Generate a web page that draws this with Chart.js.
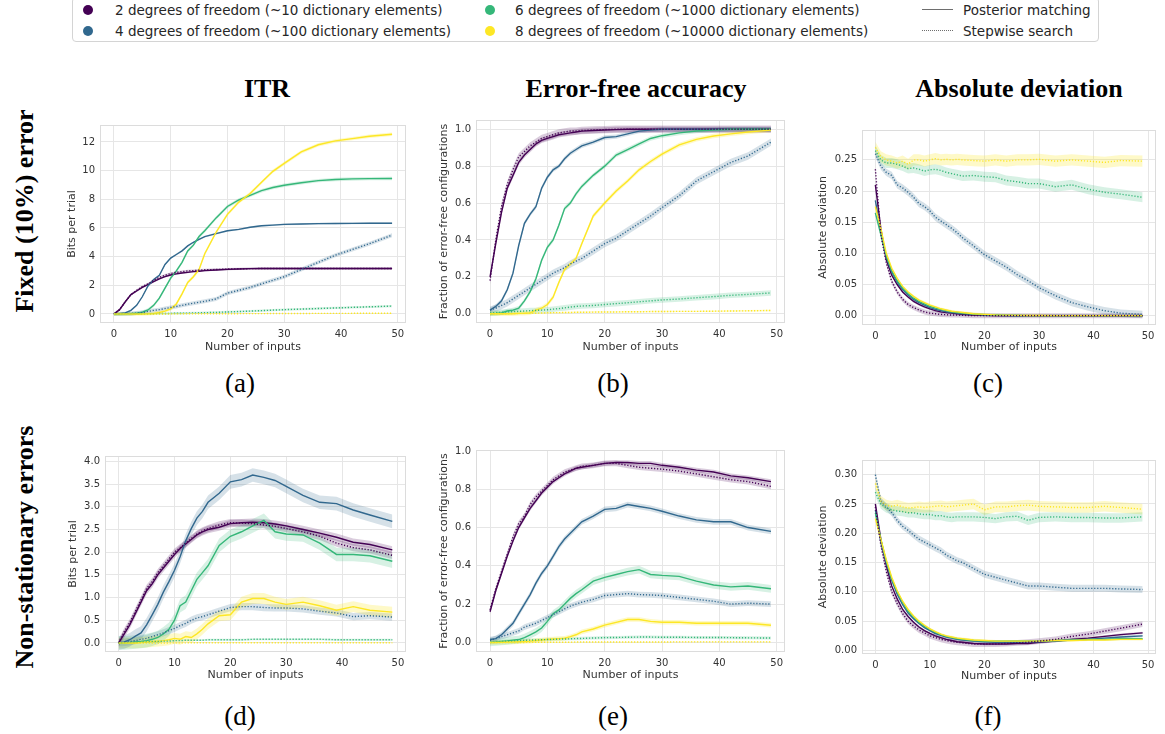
<!DOCTYPE html>
<html lang="en">
<head>
<meta charset="UTF-8">
<title>Posterior matching vs stepwise search</title>
<style>
    body { margin: 0; width: 1165px; height: 734px; overflow: hidden; background: #fff; position: relative; font-family: "DejaVu Sans", sans-serif; color: #262626; }
    .abs { position: absolute; }
    canvas { position: absolute; }
    #legend { left: 72px; top: -3px; width: 1027px; height: 45px; border: 1px solid #d4d4d4; border-radius: 4px; box-sizing: border-box; }
    .ltxt { font-size: 13.5px; line-height: 16px; white-space: nowrap; }
    .dot { width: 10px; height: 10px; border-radius: 50%; }
    .coltitle { font-family: "Liberation Serif", "Times New Roman", serif; font-weight: bold; font-size: 26px; width: 400px; text-align: center; line-height: 30px; color: #000; }
    .plabel { font-family: "Liberation Serif", "Times New Roman", serif; font-size: 27px; width: 100px; text-align: center; line-height: 30px; color: #000; }
    .rowlabel { font-family: "Liberation Serif", "Times New Roman", serif; font-weight: bold; font-size: 26px; width: 400px; height: 30px; line-height: 30px; text-align: center; transform: rotate(-90deg); color: #000; }
</style>
</head>
<body>

<div id="legend" class="abs"></div>
<div class="abs dot" style="left:83px;top:5px;background:#440154"></div>
<div class="abs ltxt" style="left:115px;top:2px">2 degrees of freedom (~10 dictionary elements)</div>
<div class="abs dot" style="left:83px;top:26px;background:#31688e"></div>
<div class="abs ltxt" style="left:115px;top:23px">4 degrees of freedom (~100 dictionary elements)</div>
<div class="abs dot" style="left:485px;top:5px;background:#35b779"></div>
<div class="abs ltxt" style="left:515px;top:2px">6 degrees of freedom (~1000 dictionary elements)</div>
<div class="abs dot" style="left:485px;top:26px;background:#fde725"></div>
<div class="abs ltxt" style="left:515px;top:23px">8 degrees of freedom (~10000 dictionary elements)</div>
<div class="abs" style="left:922px;top:9px;width:31px;border-top:1.5px solid #6e6e6e"></div>
<div class="abs ltxt" style="left:963px;top:2px">Posterior matching</div>
<div class="abs" style="left:922px;top:30px;width:31px;border-top:1.5px dotted #6e6e6e"></div>
<div class="abs ltxt" style="left:963px;top:23px">Stepwise search</div>

<div class="abs coltitle" style="left:67px;top:74px">ITR</div>
<div class="abs coltitle" style="left:436px;top:74px">Error-free accuracy</div>
<div class="abs coltitle" style="left:819px;top:74px">Absolute deviation</div>

<div class="abs rowlabel" style="left:-175px;top:196px">Fixed (10%) error</div>
<div class="abs rowlabel" style="left:-175px;top:532px">Non-stationary errors</div>

<div class="abs plabel" style="left:190px;top:368px">(a)</div>
<div class="abs plabel" style="left:563px;top:368px">(b)</div>
<div class="abs plabel" style="left:938px;top:368px">(c)</div>
<div class="abs plabel" style="left:190px;top:701px">(d)</div>
<div class="abs plabel" style="left:563px;top:701px">(e)</div>
<div class="abs plabel" style="left:938px;top:701px">(f)</div>

<canvas id="ca"></canvas>
<canvas id="cb"></canvas>
<canvas id="cc"></canvas>
<canvas id="cd"></canvas>
<canvas id="ce"></canvas>
<canvas id="cf"></canvas>

<script src="https://cdn.jsdelivr.net/npm/chart.js"></script>
<script>
    // number of inputs at which values were read
    const inputs = [0,1,2,3,4,5,6,7,8,9,10,11,12,13,14,15,16,18,20,22,24,26,28,30,33,36,39,42,45,49];

    // (a) ITR, fixed error -- PM = posterior matching, SS = stepwise search, 2/4/6/8 degrees of freedom
    const aPM2 = [0,0.3,0.85,1.35,1.6,1.85,2.05,2.25,2.45,2.6,2.72,2.8,2.86,2.9,2.95,2.98,3.02,3.07,3.11,3.14,3.16,3.17,3.17,3.17,3.17,3.17,3.17,3.17,3.17,3.17];
    const aPM4 = [0,0.02,0.08,0.25,0.6,1.2,1.95,2.4,2.7,3.45,3.9,4.15,4.4,4.75,5.0,5.2,5.4,5.6,5.8,5.9,6.05,6.15,6.2,6.25,6.27,6.3,6.31,6.32,6.33,6.33];
    const aPM6 = [0,0,0.01,0.02,0.05,0.12,0.28,0.6,1.1,1.8,2.5,3.0,3.6,4.4,4.8,5.4,5.8,6.7,7.5,7.95,8.27,8.6,8.82,8.98,9.15,9.3,9.38,9.42,9.44,9.45];
    const aPM8 = [0,0,0,0,0,0,0.01,0.03,0.1,0.2,0.35,0.7,1.4,2.2,2.6,3.1,4.2,5.7,6.95,7.8,8.4,9.18,9.95,10.5,11.3,11.8,12.07,12.23,12.4,12.53];
    const aSS2 = [0,0.3,0.85,1.35,1.65,1.9,2.1,2.35,2.55,2.7,2.82,2.9,2.95,3.0,3.02,3.05,3.08,3.1,3.13,3.15,3.16,3.17,3.17,3.17,3.17,3.17,3.17,3.17,3.17,3.17];
    const aSS4 = [0,0.01,0.02,0.04,0.06,0.1,0.18,0.25,0.3,0.38,0.45,0.52,0.6,0.68,0.75,0.82,0.88,1.05,1.45,1.65,1.85,2.1,2.35,2.6,3.1,3.6,4.1,4.5,4.9,5.5];
    const aSS6 = [0,0,0,0,0.01,0.01,0.02,0.02,0.03,0.03,0.04,0.05,0.05,0.06,0.07,0.08,0.09,0.11,0.14,0.17,0.2,0.23,0.27,0.3,0.34,0.38,0.42,0.46,0.5,0.55];
    const aSS8 = [0,0,0,0,0,0,0,0,0,0,0.005,0.005,0.01,0.01,0.01,0.01,0.015,0.015,0.02,0.02,0.025,0.025,0.03,0.03,0.035,0.04,0.04,0.045,0.05,0.05];
    const aBand = [0.06,0.06,0.12,0.12,0.08,0.14,0.08,0.02];

    // (b) error-free accuracy, fixed error
    const bPM2 = [0.2,0.38,0.55,0.68,0.75,0.82,0.86,0.89,0.92,0.94,0.95,0.96,0.97,0.975,0.98,0.985,0.99,0.993,0.996,0.998,1,1,1,1,1,1,1,1,1,1];
    const bPM4 = [0.02,0.04,0.07,0.13,0.22,0.37,0.49,0.54,0.58,0.68,0.74,0.78,0.8,0.84,0.87,0.89,0.91,0.93,0.955,0.96,0.975,0.99,0.995,1,1,1,1,1,1,1];
    const bPM6 = [0,0.002,0.005,0.015,0.02,0.03,0.07,0.12,0.19,0.29,0.36,0.4,0.48,0.57,0.6,0.65,0.69,0.75,0.8,0.86,0.89,0.92,0.95,0.965,0.98,0.99,0.995,1,1,1];
    const bPM8 = [0,0,0,0,0,0.002,0.003,0.005,0.02,0.03,0.05,0.09,0.17,0.24,0.27,0.3,0.38,0.53,0.6,0.665,0.72,0.78,0.825,0.865,0.915,0.945,0.963,0.975,0.985,0.995];
    const bSS2 = [0.18,0.4,0.58,0.7,0.78,0.85,0.88,0.91,0.93,0.95,0.96,0.97,0.98,0.985,0.99,0.99,0.993,0.996,0.998,1,1,1,1,1,1,1,1,1,1,1];
    const bSS4 = [0.02,0.03,0.045,0.06,0.08,0.1,0.12,0.14,0.16,0.18,0.2,0.22,0.235,0.25,0.27,0.285,0.3,0.34,0.38,0.41,0.45,0.49,0.53,0.575,0.64,0.72,0.77,0.82,0.855,0.93];
    const bSS6 = [0.005,0.006,0.008,0.01,0.012,0.013,0.015,0.017,0.018,0.02,0.022,0.025,0.028,0.032,0.036,0.04,0.042,0.045,0.05,0.055,0.06,0.065,0.07,0.075,0.08,0.087,0.093,0.1,0.105,0.113];
    const bSS8 = [0,0,0,0,0.001,0.002,0.002,0.003,0.003,0.004,0.005,0.006,0.006,0.007,0.007,0.008,0.008,0.009,0.01,0.01,0.011,0.011,0.012,0.012,0.013,0.013,0.014,0.015,0.016,0.018];
    const bBand = [0.015,0.012,0.012,0.012,0.02,0.02,0.015,0.004];

    // (c) absolute deviation, fixed error
    const cPM2 = [0.21,0.14,0.09,0.065,0.05,0.038,0.03,0.023,0.018,0.014,0.011,0.008,0.006,0.005,0.004,0.003,0.002,0.001,0.0005,0,0,0,0,0,0,0,0,0,0,0];
    const cPM4 = [0.185,0.135,0.095,0.07,0.054,0.042,0.033,0.026,0.021,0.017,0.013,0.01,0.008,0.006,0.005,0.004,0.003,0.002,0.001,0.0005,0.0003,0,0,0,0,0,0,0,0,0];
    const cPM6 = [0.165,0.13,0.095,0.072,0.056,0.044,0.035,0.028,0.023,0.019,0.015,0.012,0.01,0.008,0.006,0.005,0.004,0.0025,0.0015,0.001,0.0005,0.0003,0,0,0,0,0,0,0,0];
    const cPM8 = [0.175,0.14,0.1,0.076,0.06,0.047,0.038,0.031,0.025,0.021,0.017,0.014,0.011,0.009,0.007,0.006,0.005,0.003,0.002,0.0012,0.0008,0.0005,0.0003,0.0002,0,0,0,0,0,0];
    const cSS2 = [0.235,0.13,0.085,0.055,0.038,0.026,0.018,0.013,0.009,0.006,0.004,0.003,0.002,0.0015,0.001,0.001,0.0005,0,0,0,0,0,0,0,0,0,0,0,0,0];
    const cSS4 = [0.26,0.24,0.23,0.225,0.21,0.205,0.198,0.19,0.18,0.175,0.168,0.158,0.152,0.146,0.14,0.133,0.125,0.112,0.098,0.088,0.078,0.066,0.056,0.045,0.032,0.021,0.014,0.008,0.004,0.002];
    const cSS6 = [0.265,0.25,0.245,0.245,0.243,0.24,0.236,0.237,0.235,0.232,0.234,0.235,0.233,0.23,0.228,0.226,0.224,0.225,0.223,0.222,0.217,0.215,0.212,0.212,0.207,0.21,0.203,0.198,0.195,0.19];
    const cSS8 = [0.27,0.255,0.25,0.248,0.245,0.248,0.243,0.25,0.25,0.248,0.25,0.252,0.25,0.251,0.25,0.251,0.25,0.249,0.248,0.25,0.248,0.25,0.25,0.251,0.248,0.25,0.248,0.246,0.249,0.248];
    const cBand = [0.002,0.002,0.002,0.002,0.004,0.006,0.008,0.009];

    // (d) ITR, non-stationary errors
    const dPM2 = [0,0.2,0.4,0.65,0.9,1.15,1.3,1.5,1.65,1.8,1.95,2.08,2.18,2.28,2.38,2.45,2.5,2.55,2.63,2.65,2.66,2.65,2.62,2.58,2.5,2.42,2.33,2.22,2.17,2.05];
    const dPM4 = [0,0.02,0.07,0.15,0.22,0.4,0.62,0.85,1.12,1.35,1.6,1.9,2.25,2.52,2.75,2.9,3.1,3.3,3.55,3.6,3.7,3.65,3.58,3.45,3.25,3.1,3.07,2.93,2.82,2.68];
    const dPM6 = [0,0,0.01,0.02,0.03,0.05,0.08,0.12,0.2,0.3,0.5,0.82,0.9,1.15,1.4,1.55,1.7,2.15,2.35,2.45,2.58,2.7,2.45,2.4,2.38,2.2,1.95,1.95,1.92,1.8];
    const dPM8 = [0,0,0,0,0.01,0.02,0.03,0.04,0.05,0.07,0.1,0.08,0.14,0.12,0.2,0.3,0.42,0.6,0.62,0.9,0.98,0.98,0.9,0.85,0.9,0.82,0.72,0.8,0.72,0.68];
    const dSS2 = [0,0.25,0.45,0.7,0.95,1.2,1.35,1.55,1.7,1.85,2.0,2.1,2.2,2.3,2.4,2.47,2.52,2.6,2.65,2.64,2.63,2.6,2.57,2.52,2.45,2.35,2.2,2.1,2.05,1.93];
    const dSS4 = [0,0.01,0.03,0.05,0.08,0.1,0.14,0.18,0.22,0.27,0.32,0.38,0.43,0.5,0.55,0.58,0.62,0.7,0.78,0.8,0.8,0.78,0.77,0.77,0.75,0.7,0.66,0.58,0.6,0.57];
    const dSS6 = [0,0,0.01,0.01,0.02,0.02,0.03,0.03,0.04,0.04,0.05,0.05,0.06,0.06,0.06,0.06,0.07,0.07,0.07,0.07,0.08,0.08,0.08,0.08,0.08,0.08,0.07,0.07,0.07,0.07];
    const dSS8 = [0,0,0,0,0,0,0,0,0,0,0.002,0.002,0.002,0.003,0.003,0.003,0.003,0.004,0.004,0.004,0.004,0.005,0.005,0.005,0.005,0.005,0.005,0.005,0.005,0.005];
    const dBand = [0.08,0.15,0.15,0.12,0.08,0.08,0.02,0.003];

    // (e) error-free accuracy, non-stationary errors
    const ePM2 = [0.16,0.27,0.36,0.45,0.53,0.6,0.65,0.7,0.74,0.78,0.81,0.84,0.86,0.88,0.895,0.91,0.915,0.925,0.935,0.94,0.94,0.935,0.935,0.925,0.915,0.9,0.89,0.87,0.86,0.84];
    const ePM4 = [0.015,0.02,0.04,0.07,0.1,0.15,0.2,0.25,0.31,0.36,0.4,0.45,0.5,0.54,0.57,0.6,0.63,0.66,0.695,0.7,0.72,0.71,0.7,0.685,0.66,0.64,0.63,0.63,0.6,0.58];
    const ePM6 = [0,0.002,0.005,0.008,0.012,0.015,0.025,0.04,0.055,0.075,0.11,0.15,0.17,0.2,0.23,0.255,0.275,0.32,0.34,0.355,0.37,0.38,0.355,0.35,0.345,0.32,0.3,0.29,0.295,0.28];
    const ePM8 = [0,0,0.001,0.002,0.003,0.004,0.005,0.007,0.01,0.013,0.016,0.018,0.02,0.022,0.03,0.04,0.055,0.07,0.09,0.105,0.12,0.12,0.11,0.105,0.105,0.1,0.1,0.1,0.1,0.09];
    const eSS2 = [0.17,0.28,0.37,0.46,0.55,0.62,0.66,0.72,0.76,0.79,0.82,0.85,0.87,0.89,0.9,0.91,0.92,0.925,0.935,0.935,0.925,0.915,0.91,0.905,0.895,0.88,0.865,0.85,0.84,0.815];
    const eSS4 = [0.01,0.02,0.03,0.04,0.05,0.06,0.08,0.09,0.1,0.115,0.13,0.145,0.16,0.175,0.19,0.2,0.21,0.225,0.245,0.25,0.255,0.25,0.248,0.245,0.235,0.225,0.215,0.2,0.205,0.2];
    const eSS6 = [0,0.003,0.005,0.007,0.008,0.01,0.011,0.012,0.013,0.014,0.015,0.016,0.017,0.018,0.019,0.02,0.021,0.023,0.025,0.026,0.027,0.028,0.028,0.027,0.027,0.026,0.026,0.025,0.024,0.023];
    const eSS8 = [0,0,0,0,0,0,0,0.001,0.001,0.001,0.001,0.001,0.001,0.001,0.001,0.002,0.002,0.002,0.002,0.002,0.002,0.002,0.002,0.002,0.003,0.003,0.003,0.003,0.003,0.003];
    const eBand = [0.012,0.015,0.02,0.012,0.015,0.015,0.008,0.002];

    // (f) absolute deviation, non-stationary errors
    const fPM2 = [0.25,0.19,0.145,0.11,0.088,0.07,0.058,0.048,0.04,0.034,0.029,0.025,0.022,0.019,0.017,0.015,0.014,0.012,0.011,0.011,0.011,0.012,0.012,0.014,0.016,0.019,0.021,0.024,0.027,0.03];
    const fPM4 = [0.24,0.185,0.15,0.12,0.096,0.078,0.064,0.054,0.046,0.039,0.034,0.029,0.026,0.023,0.021,0.019,0.018,0.016,0.015,0.014,0.014,0.014,0.015,0.015,0.016,0.018,0.019,0.021,0.023,0.025];
    const fPM6 = [0.235,0.19,0.152,0.122,0.1,0.082,0.067,0.057,0.048,0.041,0.036,0.031,0.027,0.024,0.022,0.02,0.019,0.017,0.016,0.016,0.016,0.016,0.016,0.016,0.017,0.018,0.019,0.019,0.02,0.02];
    const fPM8 = [0.225,0.19,0.155,0.125,0.102,0.084,0.07,0.059,0.05,0.043,0.037,0.032,0.028,0.025,0.023,0.021,0.02,0.018,0.017,0.016,0.016,0.016,0.016,0.016,0.017,0.017,0.018,0.018,0.019,0.019];
    const fSS2 = [0.245,0.18,0.135,0.1,0.08,0.063,0.05,0.042,0.035,0.03,0.025,0.022,0.019,0.017,0.015,0.014,0.013,0.011,0.011,0.011,0.012,0.013,0.014,0.016,0.019,0.024,0.028,0.033,0.038,0.045];
    const fSS4 = [0.3,0.255,0.245,0.235,0.222,0.212,0.205,0.197,0.19,0.185,0.18,0.175,0.17,0.163,0.158,0.153,0.15,0.14,0.13,0.125,0.12,0.115,0.11,0.11,0.108,0.106,0.106,0.106,0.105,0.104];
    const fSS6 = [0.27,0.25,0.243,0.24,0.238,0.237,0.235,0.235,0.233,0.232,0.232,0.23,0.23,0.228,0.227,0.228,0.228,0.228,0.227,0.225,0.228,0.229,0.222,0.227,0.228,0.227,0.227,0.226,0.226,0.228];
    const fSS8 = [0.285,0.255,0.248,0.246,0.248,0.245,0.243,0.244,0.245,0.244,0.245,0.246,0.247,0.245,0.246,0.247,0.248,0.25,0.24,0.245,0.245,0.247,0.248,0.246,0.245,0.244,0.244,0.246,0.244,0.241];
    const fBand = [0.002,0.002,0.002,0.002,0.005,0.006,0.008,0.009];

    const colors = ['#440154', '#31688e', '#35b779', '#fde725'];
    const bandColors = ['rgba(68,1,84,0.2)', 'rgba(49,104,142,0.2)', 'rgba(53,183,121,0.2)', 'rgba(253,231,37,0.25)'];

    const framePlugin = {
        id: 'frame',
        afterDatasetsDraw(chart) {
            const { ctx, chartArea: a } = chart;
            ctx.save();
            ctx.strokeStyle = '#dcdcdc';
            ctx.lineWidth = 1;
            ctx.strokeRect(Math.round(a.left) + 0.5, Math.round(a.top) + 0.5, Math.round(a.width) - 1, Math.round(a.height) - 1);
            ctx.restore();
        }
    };

    function pts(vals) {
        return inputs.map((x, i) => ({ x: x, y: vals[i] }));
    }

    function buildDatasets(solid, dotted, band) {
        const sets = [];
        const all = solid.concat(dotted);
        all.forEach((vals, k) => {
            const c = k % 4;
            const w = band[k];
            sets.push({ data: pts(vals.map(v => v - w)), borderWidth: 0, pointRadius: 0, fill: false, order: 5 });
            sets.push({ data: pts(vals.map(v => v + w)), borderWidth: 0, pointRadius: 0, fill: '-1', backgroundColor: bandColors[c], order: 5 });
            // later series drawn on top, like the original
            sets.push({
                data: pts(vals), borderColor: colors[c], borderWidth: 1.4, pointRadius: 0, fill: false,
                borderDash: k >= 4 ? [1.2, 1.8] : [], order: -k
            });
        });
        return sets;
    }

    function makePanel(p) {
        const cv = document.getElementById(p.id);
        const w = p.yw + p.plotW + 10;
        const h = 8 + p.plotH + p.xh;
        cv.width = w; cv.height = h;
        cv.style.left = p.left + 'px';
        cv.style.top = p.top + 'px';
        const tickFont = { family: 'DejaVu Sans', size: 10 };
        const titleFont = { family: 'DejaVu Sans', size: 11 };
        new Chart(cv, {
            type: 'line',
            data: { datasets: buildDatasets(p.solid, p.dotted, p.band) },
            options: {
                responsive: false,
                animation: false,
                layout: { padding: { top: 8, right: 10, left: 0, bottom: 0 } },
                plugins: { legend: { display: false }, tooltip: { enabled: false } },
                scales: {
                    x: {
                        type: 'linear', min: -2.45, max: 51.45,
                        afterFit: s => { s.height = p.xh; },
                        ticks: { stepSize: 10, includeBounds: false, padding: 5, color: '#333', font: tickFont },
                        grid: { color: '#e6e6e6', drawTicks: false },
                        border: { display: false },
                        title: { display: true, text: 'Number of inputs', color: '#333', font: titleFont, padding: 0 }
                    },
                    y: {
                        type: 'linear', min: p.ymin, max: p.ymax,
                        afterFit: s => { s.width = p.yw; },
                        ticks: {
                            stepSize: p.step, includeBounds: false, padding: 5, color: '#333', font: tickFont,
                            callback: v => v.toFixed(p.dec)
                        },
                        grid: { color: '#e6e6e6', drawTicks: false },
                        border: { display: false },
                        title: { display: true, text: p.ylabel, color: '#333', font: titleFont, padding: 0 }
                    }
                }
            },
            plugins: [framePlugin]
        });
    }

    makePanel({ id: 'ca', left: 66, top: 114, yw: 34, plotW: 306, plotH: 201, xh: 31,
        ymin: -0.63, ymax: 13.18, step: 2, dec: 0, ylabel: 'Bits per trial',
        solid: [aPM2, aPM4, aPM6, aPM8], dotted: [aSS2, aSS4, aSS6, aSS8], band: aBand });
    makePanel({ id: 'cb', left: 438, top: 109, yw: 38, plotW: 309, plotH: 206, xh: 31,
        ymin: -0.05, ymax: 1.05, step: 0.2, dec: 1, ylabel: 'Fraction of error-free configurations',
        solid: [bPM2, bPM4, bPM6, bPM8], dotted: [bSS2, bSS4, bSS6, bSS8], band: bBand });
    makePanel({ id: 'cc', left: 817, top: 119, yw: 45, plotW: 294, plotH: 198, xh: 29,
        ymin: -0.015, ymax: 0.298, step: 0.05, dec: 2, ylabel: 'Absolute deviation',
        solid: [cPM2, cPM4, cPM6, cPM8], dotted: [cSS2, cSS4, cSS6, cSS8], band: cBand });
    makePanel({ id: 'cd', left: 67, top: 445, yw: 38, plotW: 301, plotH: 199, xh: 30,
        ymin: -0.2, ymax: 4.12, step: 0.5, dec: 1, ylabel: 'Bits per trial',
        solid: [dPM2, dPM4, dPM6, dPM8], dotted: [dSS2, dSS4, dSS6, dSS8], band: dBand });
    makePanel({ id: 'ce', left: 438, top: 439, yw: 38, plotW: 309, plotH: 205, xh: 30,
        ymin: -0.05, ymax: 1.005, step: 0.2, dec: 1, ylabel: 'Fraction of error-free configurations',
        solid: [ePM2, ePM4, ePM6, ePM8], dotted: [eSS2, eSS4, eSS6, eSS8], band: eBand });
    makePanel({ id: 'cf', left: 817, top: 449, yw: 45, plotW: 294, plotH: 197, xh: 29,
        ymin: -0.006, ymax: 0.325, step: 0.05, dec: 2, ylabel: 'Absolute deviation',
        solid: [fPM2, fPM4, fPM6, fPM8], dotted: [fSS2, fSS4, fSS6, fSS8], band: fBand });
</script>
</body>
</html>
